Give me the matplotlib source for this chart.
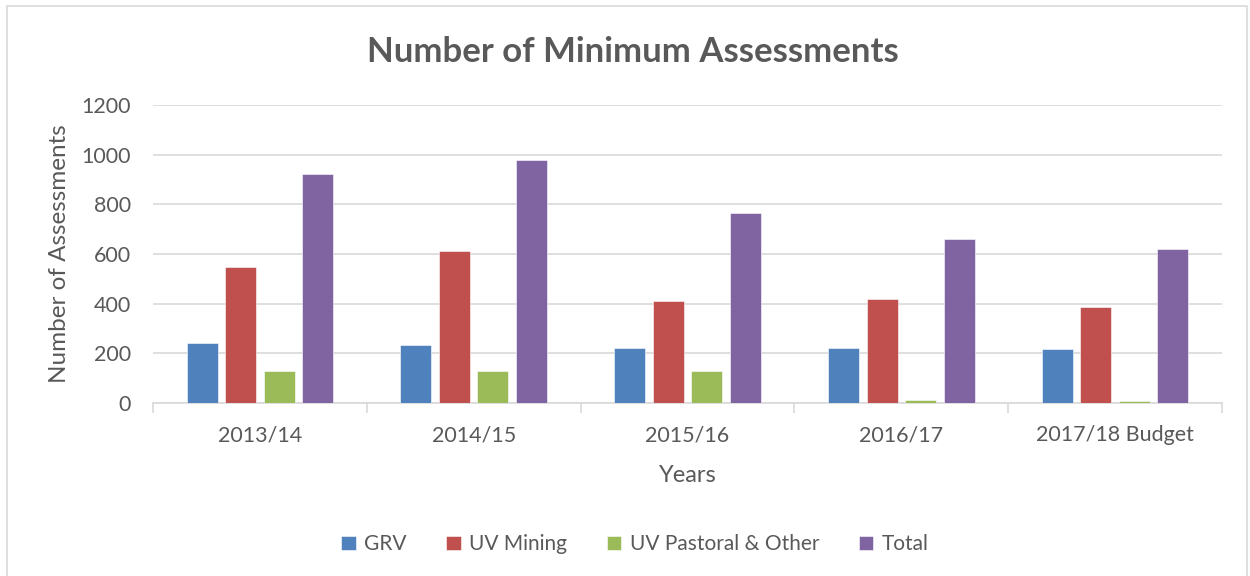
import matplotlib.pyplot as plt
from matplotlib.patches import Rectangle
import numpy as np

plt.rcParams['font.family'] = ['Lato', 'DejaVu Sans']

years = ['2013/14', '2014/15', '2015/16', '2016/17', '2017/18 Budget']
grv = [242, 234, 223, 221, 219]
uv_mining = [549, 614, 412, 419, 385]
uv_pastoral = [129, 129, 128, 13, 9]
total = [923, 978, 766, 660, 619]

series = [
    ('GRV', grv, '#4F81BD'),
    ('UV Mining', uv_mining, '#C0504D'),
    ('UV Pastoral & Other', uv_pastoral, '#9BBB59'),
    ('Total', total, '#8064A2'),
]

txt = '#595959'
grid = '#D9D9D9'

fig = plt.figure(figsize=(12.5, 5.76), dpi=100)
fig.patches.append(Rectangle((7 / 1250, -0.05), 1240 / 1250, 1.04,
                             transform=fig.transFigure, fill=False,
                             edgecolor=grid, linewidth=1.2))

ax = fig.add_axes([153 / 1250, 173 / 576, 1069 / 1250, 298 / 576])

x = np.arange(len(years))
pitch = 0.18
width = 0.145
for i, (name, vals, col) in enumerate(series):
    ax.bar(x + (i - 1.5) * pitch, vals, width, color=col, label=name,
           edgecolor='white', linewidth=0.4, zorder=3)

ax.set_xlim(-0.5, len(years) - 0.5)
ax.set_ylim(0, 1200)
ax.set_yticks(range(0, 1201, 200))
ax.yaxis.grid(True, color=grid, linewidth=1.2, zorder=0)
ax.set_axisbelow(True)

ax.set_xticks(x)
ax.set_xticklabels(years)
ax.set_xticks(np.arange(-0.5, len(years), 1), minor=True)
ax.tick_params(axis='x', which='major', length=0, pad=16, labelsize=15.5, colors=txt)
ax.tick_params(axis='x', which='minor', length=7, width=1.2, color=grid)
ax.tick_params(axis='y', length=0, pad=16, labelsize=15.5, colors=txt)

for s in ['top', 'right', 'left']:
    ax.spines[s].set_visible(False)
ax.spines['bottom'].set_color(grid)
ax.spines['bottom'].set_linewidth(1.2)

ax.set_ylabel('Number of Assessments', fontsize=17.5, color=txt, labelpad=8)
ax.set_xlabel('Years', fontsize=17, color=txt, labelpad=14)

fig.text(0.506, 0.91, 'Number of Minimum Assessments', ha='center', va='center',
         fontsize=25, fontweight='bold', color=txt)

fig.legend(loc='center', bbox_to_anchor=(0.508, 0.055), ncol=4, frameon=False,
           fontsize=15, labelcolor=txt, handlelength=0.7, handleheight=0.7,
           handletextpad=0.4, columnspacing=1.9)

fig.savefig('out.png', dpi=100)
